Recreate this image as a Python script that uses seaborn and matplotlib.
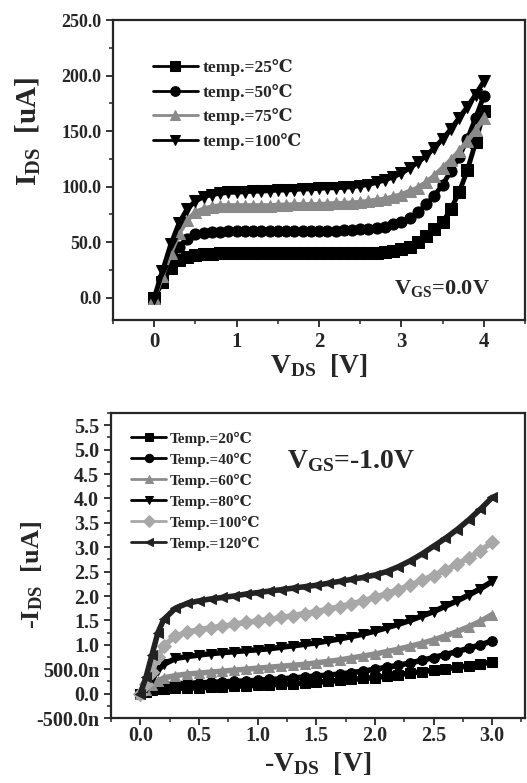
import numpy as np
import pandas as pd
import seaborn as sns
import matplotlib
matplotlib.use("Agg")
import matplotlib.pyplot as plt
from matplotlib.ticker import MultipleLocator, FixedLocator, FuncFormatter

# ---- data: top panel, V_GS = 0.0 V ----
vds_top = [0.0, 0.1, 0.2, 0.3, 0.4, 0.5, 0.6, 0.7, 0.8, 0.9,
           1.0, 1.1, 1.2, 1.3, 1.4, 1.5, 1.6, 1.7, 1.8, 1.9,
           2.0, 2.1, 2.2, 2.3, 2.4, 2.5, 2.6, 2.7, 2.8, 2.9,
           3.0, 3.1, 3.2, 3.3, 3.4, 3.5, 3.6, 3.7, 3.8, 3.9, 4.0]
ids_25 = [0, 14, 27, 34, 37, 38.5, 39, 39.5, 40, 40,
          40, 40, 40, 40, 40, 40, 40, 40, 40, 40,
          40, 40, 40, 40, 40, 40, 40, 40.5, 41, 42,
          43.5, 46, 50, 56, 62, 68, 80, 95, 115, 140, 168]
ids_50 = [0, 17, 33, 46, 53, 57, 58.5, 59, 59.5, 60,
          60, 60, 60, 60, 60, 60, 60, 60, 60, 60,
          60, 60, 60.5, 61, 61, 61.5, 62, 63, 64, 66,
          68, 72, 77, 84, 92, 102, 114, 127, 143, 162, 182]
ids_75 = [0, 20, 40, 58, 70, 77, 80, 82, 83, 83,
          83, 83, 83, 83, 83, 83.5, 83.5, 84, 84, 84,
          84, 84.5, 85, 85, 85.5, 86, 87, 88, 89, 91,
          93, 96, 99, 104, 110, 117, 124, 132, 141, 151, 162]
ids_100 = [0, 24, 48, 67, 80, 87, 91, 93, 94, 95,
           95, 95.5, 96, 96, 96.5, 97, 97, 97.5, 98, 98,
           98.5, 99, 99, 99.5, 100, 101, 102, 104, 106, 109,
           112, 117, 122, 128, 135, 143, 152, 162, 172, 183, 195]
top_labels = ["temp.=25\u2103", "temp.=50\u2103", "temp.=75\u2103", "temp.=100\u2103"]

# ---- data: bottom panel, V_GS = -1.0 V ----
vds_bot = [0.0, 0.05, 0.1, 0.15, 0.2, 0.3, 0.4, 0.5, 0.6, 0.7,
           0.8, 0.9, 1.0, 1.1, 1.2, 1.3, 1.4, 1.5, 1.6, 1.7,
           1.8, 1.9, 2.0, 2.1, 2.2, 2.3, 2.4, 2.5, 2.6, 2.7,
           2.8, 2.9, 3.0]
ids_20 = [0, 0.04, 0.07, 0.09, 0.1, 0.11, 0.115, 0.12, 0.13, 0.14,
          0.15, 0.16, 0.17, 0.18, 0.19, 0.2, 0.22, 0.23, 0.25, 0.27,
          0.29, 0.31, 0.33, 0.36, 0.39, 0.42, 0.45, 0.48, 0.51, 0.54,
          0.57, 0.61, 0.65]
ids_40 = [0, 0.06, 0.12, 0.16, 0.18, 0.2, 0.21, 0.22, 0.23, 0.24,
          0.25, 0.26, 0.27, 0.29, 0.3, 0.32, 0.34, 0.36, 0.38, 0.4,
          0.43, 0.46, 0.5, 0.54, 0.58, 0.63, 0.68, 0.74, 0.8, 0.86,
          0.93, 1.0, 1.08]
ids_60 = [0, 0.08, 0.18, 0.26, 0.32, 0.37, 0.4, 0.42, 0.44, 0.46,
          0.48, 0.5, 0.52, 0.54, 0.56, 0.58, 0.6, 0.63, 0.66, 0.69,
          0.73, 0.77, 0.81, 0.86, 0.91, 0.97, 1.03, 1.1, 1.18, 1.27,
          1.37, 1.48, 1.62]
ids_80 = [0, 0.12, 0.3, 0.48, 0.6, 0.72, 0.76, 0.79, 0.82, 0.84,
          0.86, 0.88, 0.9, 0.92, 0.95, 0.98, 1.01, 1.04, 1.08, 1.12,
          1.17, 1.22, 1.28, 1.35, 1.42, 1.5, 1.59, 1.68, 1.79, 1.9,
          2.02, 2.15, 2.3]
ids_100b = [0, 0.2, 0.45, 0.75, 0.98, 1.18, 1.26, 1.31, 1.35, 1.38,
            1.42, 1.46, 1.49, 1.52, 1.56, 1.6, 1.64, 1.68, 1.73, 1.78,
            1.84, 1.9, 1.97, 2.05, 2.13, 2.22, 2.32, 2.42, 2.53, 2.65,
            2.78, 2.93, 3.1]
ids_120 = [0, 0.35, 0.8, 1.25, 1.52, 1.75, 1.85, 1.9, 1.94, 1.97,
           2.0, 2.04, 2.07, 2.1, 2.13, 2.16, 2.19, 2.22, 2.26, 2.3,
           2.34, 2.38, 2.43, 2.5, 2.6, 2.72, 2.86, 3.02, 3.18, 3.36,
           3.56, 3.78, 4.02]
bot_labels = ["Temp.=20\u2103", "Temp.=40\u2103", "Temp.=60\u2103",
              "Temp.=80\u2103", "Temp.=100\u2103", "Temp.=120\u2103"]

sns.set_style("ticks")
plt.rcParams["font.family"] = ["Liberation Serif", "DejaVu Serif", "DejaVu Sans"]
plt.rcParams["font.weight"] = "bold"
plt.rcParams["mathtext.fontset"] = "custom"
plt.rcParams["mathtext.rm"] = "Liberation Serif:bold"
plt.rcParams["mathtext.bf"] = "Liberation Serif:bold"
plt.rcParams["mathtext.it"] = "Liberation Serif:bold"

fig = plt.figure(figsize=(5.27, 7.83), dpi=100)
ax1 = fig.add_axes([0.2144, 0.5913, 0.782, 0.383])
ax2 = fig.add_axes([0.2106, 0.083, 0.7856, 0.3895])

# top panel curves
top_series = [ids_25, ids_50, ids_75, ids_100]
top_markers = ["s", "o", "^", "v"]
top_colors = ["black", "black", "#8a8a8a", "black"]
for ys, m, c, lab in zip(top_series, top_markers, top_colors, top_labels):
    sns.lineplot(x=vds_top, y=ys, ax=ax1, marker=m, color=c, label=lab,
                 markersize=8, markeredgecolor=c, linewidth=3.5)

ax1.set_xlim(-0.5, 4.5)
ax1.set_ylim(-20, 250)
ax1.xaxis.set_major_locator(FixedLocator([0, 1, 2, 3, 4]))
ax1.xaxis.set_minor_locator(FixedLocator([-0.5, 0.5, 1.5, 2.5, 3.5, 4.5]))
ax1.yaxis.set_major_locator(MultipleLocator(50))
ax1.yaxis.set_minor_locator(MultipleLocator(25))
ax1.yaxis.set_major_formatter(FuncFormatter(lambda v, p: f"{v:.1f}"))
ax1.tick_params(axis="x", labelsize=15)
ax1.tick_params(axis="y", labelsize=13)
ax1.set_xlabel(r"V$_{\mathrm{DS}}$  [V]", fontsize=20, fontweight="bold", labelpad=0)
ax1.set_ylabel(r"I$_{\mathrm{DS}}$  [uA]", fontsize=21, fontweight="bold")
ax1.yaxis.set_label_coords(-0.17, 0.63)
ax1.text(0.915, 0.07, r"V$_{\mathrm{GS}}$=0.0V", transform=ax1.transAxes,
         ha="right", va="bottom", fontsize=16, fontweight="bold")
leg1 = ax1.legend(loc="upper left", bbox_to_anchor=(0.075, 0.9), frameon=False,
                  prop={"size": 12.5, "weight": "bold"}, handlelength=2.6,
                  handletextpad=0.3, labelspacing=0.45, borderpad=0)
for ln in leg1.get_lines():
    ln.set_linewidth(2)
    ln.set_markersize(7)

# bottom panel curves
bot_series = [ids_20, ids_40, ids_60, ids_80, ids_100b, ids_120]
bot_markers = ["s", "o", "^", "v", "D", "<"]
bot_colors = ["black", "black", "#8c8c8c", "black", "#a8a8a8", "#222222"]
for ys, m, c, lab in zip(bot_series, bot_markers, bot_colors, bot_labels):
    sns.lineplot(x=vds_bot, y=ys, ax=ax2, marker=m, color=c, label=lab,
                 markersize=7, markeredgecolor=c, linewidth=4)

ax2.set_xlim(-0.25, 3.28)
ax2.set_ylim(-0.5, 5.75)
ax2.xaxis.set_major_locator(MultipleLocator(0.5))
ax2.xaxis.set_minor_locator(MultipleLocator(0.25))
ax2.yaxis.set_major_locator(MultipleLocator(0.5))
ax2.yaxis.set_minor_locator(MultipleLocator(0.25))


def bot_fmt(v, p):
    if abs(v - 0.5) < 1e-6:
        return "500.0n"
    if abs(v + 0.5) < 1e-6:
        return "-500.0n"
    return f"{v:.1f}"


ax2.yaxis.set_major_formatter(FuncFormatter(bot_fmt))
ax2.xaxis.set_major_formatter(FuncFormatter(lambda v, p: f"{v:.1f}"))
ax2.tick_params(axis="both", labelsize=14.5)
ax2.tick_params(axis="x", pad=1)
ax2.set_xlabel(r"-V$_{\mathrm{DS}}$  [V]", fontsize=20, fontweight="bold")
ax2.xaxis.set_label_coords(0.5, -0.105)
ax2.xaxis.label.set_va("top")
ax2.set_ylabel(r"-I$_{\mathrm{DS}}$  [uA]", fontsize=19, fontweight="bold")
ax2.yaxis.set_label_coords(-0.16, 0.47)
ax2.text(0.425, 0.8, r"V$_{\mathrm{GS}}$=-1.0V", transform=ax2.transAxes,
         ha="left", va="bottom", fontsize=20, fontweight="bold")
leg2 = ax2.legend(loc="upper left", bbox_to_anchor=(0.03, 0.965), frameon=False,
                  prop={"size": 11, "weight": "bold"}, handlelength=2.3,
                  handletextpad=0.25, labelspacing=0.45, borderpad=0)
for ln in leg2.get_lines():
    ln.set_linewidth(2)
    ln.set_markersize(6)

for ax in (ax1, ax2):
    for s in ax.spines.values():
        s.set_linewidth(1.6)
    ax.tick_params(which="major", direction="out", length=5, width=1.3)
    ax.tick_params(which="minor", direction="out", length=3, width=1.1)

fig.savefig("out.png", dpi=100)
